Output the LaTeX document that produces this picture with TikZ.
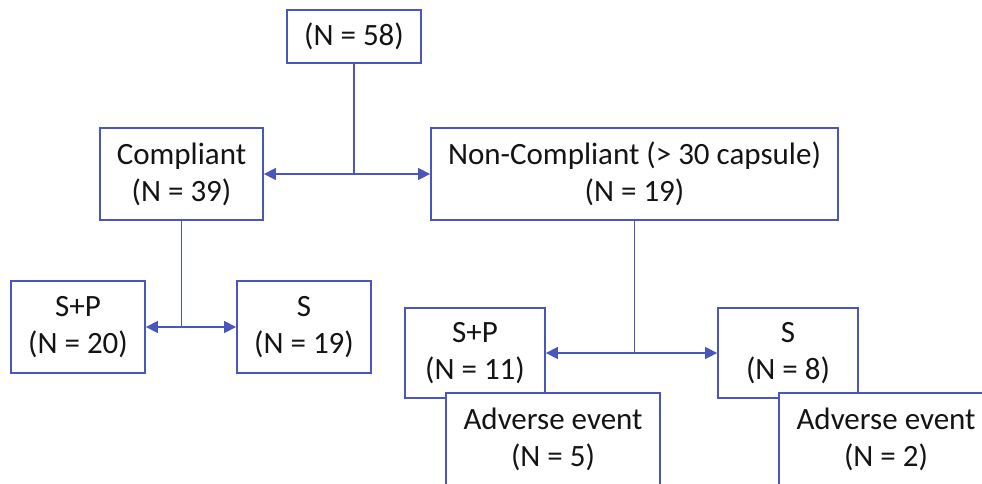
\documentclass[tikz,border=0pt]{standalone}
\usepackage{fontspec}
\setmainfont{Carlito}
\usetikzlibrary{arrows.meta}
\definecolor{boxblue}{RGB}{72,86,190}
\definecolor{txt}{RGB}{20,20,20}
\tikzset{
  box/.style={draw=boxblue, line width=1.8pt, fill=white, align=center, text=txt,
    inner sep=0pt, font=\fontsize{31}{37}\selectfont},
  conn/.style={draw=boxblue, line width=1.4pt},
  arr/.style={conn, -{Triangle[length=12pt,width=12pt]}}
}
\begin{document}
\begin{tikzpicture}[x=1pt,y=-1pt]
\useasboundingbox (0,0) rectangle (982,483);
\clip (0,0) rectangle (982,483);
\node[box, minimum width=134pt, minimum height=53pt] (top) at (354,36.5) {(N = 58)};
\node[box, minimum width=163pt, minimum height=92pt] (comp) at (181.5,174) {Compliant\\(N = 39)};
\node[box, minimum width=407pt, minimum height=92pt] (non) at (634.5,174) {Non-Compliant (> 30 capsule)\\(N = 19)};
\node[box, minimum width=134pt, minimum height=92pt] (sp1) at (78,327) {S+P\\(N = 20)};
\node[box, minimum width=134pt, minimum height=92pt] (s1) at (304,327) {S\\(N = 19)};
\node[box, minimum width=140pt, minimum height=90pt] (sp2) at (475,353) {S+P\\(N = 11)};
\node[box, minimum width=140pt, minimum height=90pt] (s2) at (788,353) {S\\(N = 8)};
\node[box, minimum width=214pt, minimum height=92pt] (ae1) at (553,439) {Adverse event\\(N = 5)};
\node[box, minimum width=214pt, minimum height=92pt] (ae2) at (886,439) {Adverse event\\(N = 2)};
\coordinate (j1) at (top.south |- comp.east);
\coordinate (j2) at (comp.south |- sp1.east);
\coordinate (j3) at (non.south |- sp2.east);
\draw[conn] (top.south) -- (j1);
\draw[arr] (j1) -- (comp.east);
\draw[arr] (j1) -- (non.west);
\draw[conn] (comp.south) -- (j2);
\draw[arr] (j2) -- (sp1.east);
\draw[arr] (j2) -- (s1.west);
\draw[conn] (non.south) -- (j3);
\draw[arr] (j3) -- (sp2.east);
\draw[arr] (j3) -- (s2.west);
\end{tikzpicture}
\end{document}
